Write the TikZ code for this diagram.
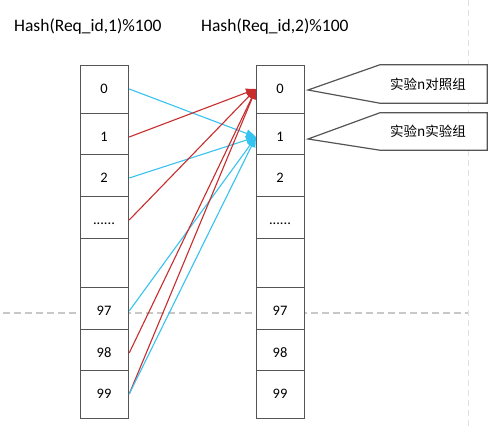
\documentclass[tikz,border=0pt]{standalone}
\usepackage{fontspec}
\setmainfont{Carlito}
\newfontfamily\cjk{Noto Sans CJK SC}
\usetikzlibrary{arrows.meta}
\definecolor{redln}{RGB}{200,45,45}
\definecolor{blueln}{RGB}{55,195,240}
\definecolor{boxln}{RGB}{85,85,85}
\definecolor{guide}{RGB}{200,200,200}
\definecolor{guidev}{RGB}{225,225,225}
\newcommand\mysixdots{......}
\begin{document}
\begin{tikzpicture}[x=1pt,y=-1pt,
  cell/.style={draw=boxln, line width=1.2pt, fill=white, minimum width=48pt, inner sep=0pt, anchor=north west},
  lbl/.style={font=\fontsize{14.5}{14.5}\selectfont, text height=10pt, text depth=0pt, inner sep=0pt},
  head/.style={font=\fontsize{17.5}{17.5}\selectfont, anchor=west, inner sep=0pt},
  ctext/.style={font=\cjk\fontsize{13.5}{14}\selectfont, inner sep=0pt},
  callout/.style={draw=boxln, line width=1.2pt, fill=white},
  redarr/.style={draw=redln, line width=1.1pt, -{Triangle[length=10pt,width=8pt]}},
  bluearr/.style={draw=blueln, line width=1.1pt, -{Triangle[length=10pt,width=8pt]}},
]
\useasboundingbox (0,0) rectangle (493,430);
\fill[white] (0,0) rectangle (493,430);
% guide lines
\draw[guidev, line width=0.8pt, dash pattern=on 6pt off 4pt] (468,0) -- (468,430);
\draw[guide, line width=1.6pt, dash pattern=on 7pt off 4pt] (3,313) -- (468,313);
% headers
\node[head] (h1) at (14,27) {Hash(Req\_id,1)\%100};
\node[head] (h2) at (201,27) {Hash(Req\_id,2)\%100};
% columns
\foreach \col/\x in {a/80,b/256}{
  \foreach \t/\h/\txt/\nm in {65/48/0/0, 113/41/1/1, 154/42/2/2, 196/42/\mysixdots/3, 238/49/{}/4, 287/42/97/97, 329/41/98/98, 370/48/99/99}{
    \node[cell, minimum height=\h pt] (\col\nm) at (\x,\t) {};
    \node[lbl] (\col l\nm) at (\x+24,\t+24) {\txt};
  }
}
% callouts
\coordinate (tip0) at (308,90);
\coordinate (tip1) at (308,139);
\node[inner sep=0pt, minimum width=107pt, minimum height=38pt] (c0) at (433.5,84) {};
\node[inner sep=0pt, minimum width=107pt, minimum height=37pt] (c1) at (433.5,131.5) {};
\draw[callout] (tip0) -- (c0.north west) -- (c0.north east) -- (c0.south east) -- (c0.south west) -- cycle;
\draw[callout] (tip1) -- (c1.north west) -- (c1.north east) -- (c1.south east) -- (c1.south west) -- cycle;
\node[ctext] (ct0) at (428,84) {实验n对照组};
\node[ctext] (ct1) at (428,131) {实验n实验组};
% connectors
\draw[bluearr] (a0.east |- al0) -- (b1.west |- bl1);
\draw[redarr] (a1.east |- al1) -- (b0.west |- bl0);
\draw[bluearr] (a2.east |- al2) -- (b1.west |- bl1);
\draw[redarr] (a3.east |- al3) -- (b0.west |- bl0);
\draw[bluearr] (a97.east |- al97) -- (b1.west |- bl1);
\draw[redarr] (a98.east |- al98) -- (b0.west |- bl0);
\draw[redarr] (a99.east |- al99) -- (b0.west |- bl0);
\draw[bluearr] (a99.east |- al99) -- (b1.west |- bl1);
\end{tikzpicture}
\end{document}
